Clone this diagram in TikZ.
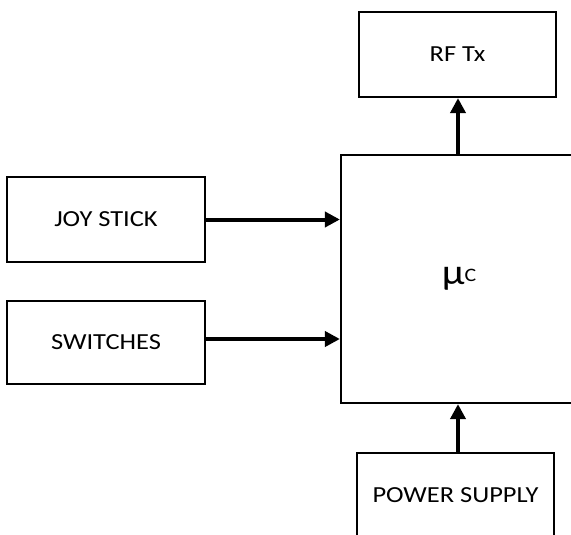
\documentclass[tikz,border=0pt]{standalone}
\usepackage{fontspec}
\setmainfont[FakeStretch=1.15]{Carlito}
\usetikzlibrary{arrows.meta}
\begin{document}
\begin{tikzpicture}[x=1pt,y=-1pt,
  blk/.style={draw=black,line width=2.2pt,minimum width=197pt,inner sep=0pt,font=\fontsize{23}{26}\selectfont},
  conn/.style={line width=4pt,-{Triangle[length=15pt,width=15pt]}}]
\useasboundingbox (0,0) rectangle (571,535);
\clip (0,0) rectangle (571,535);
\node[blk,minimum height=85pt] (rf) at (457.5,54.5) {RF Tx};
\node[blk,minimum width=236pt,minimum height=248pt] (mc) at (459,279) {\raisebox{-3pt}{\fontsize{36}{38}\selectfont μ}\fontsize{19}{22}\selectfont C};
\node[blk,minimum width=198pt,minimum height=85pt] (joy) at (106,219.5) {JOY STICK};
\node[blk,minimum width=198pt,minimum height=83pt] (sw) at (106,342.5) {SWITCHES};
\node[blk,minimum height=84pt] (ps) at (455.5,495) {POWER SUPPLY};
\draw[conn] (mc.north -| 458,0) -- (rf.south -| 458,0);
\draw[conn] (joy.east) -- (joy.east -| mc.west);
\draw[conn] ([yshift=3.5pt]sw.east) -- ([yshift=3.5pt]sw.east -| mc.west);
\draw[conn] (ps.north -| 458,0) -- (mc.south -| 458,0);
\end{tikzpicture}
\end{document}
